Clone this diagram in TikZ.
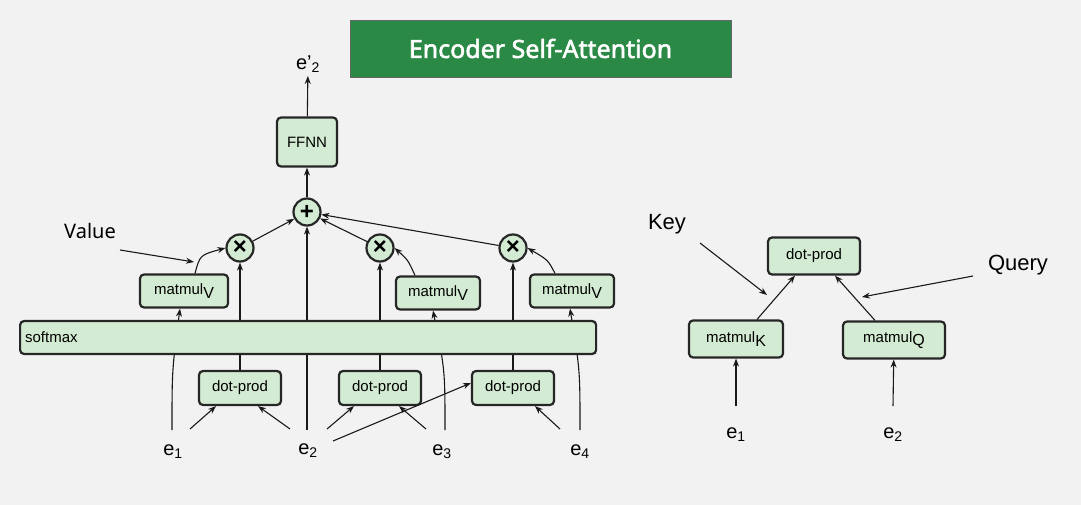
\documentclass[tikz,border=0pt]{standalone}
\usepackage{fontspec}
\setmainfont{Liberation Sans}
\newfontfamily\notos{Noto Sans}
\newfontfamily\notob{Noto Sans}[FakeBold=2.2]
\usetikzlibrary{arrows.meta}
\definecolor{bg}{HTML}{F2F2F2}
\definecolor{boxg}{HTML}{D3EBD2}
\definecolor{titleg}{HTML}{2A8A45}
\newcommand{\sbx}[1]{\raisebox{-3.5pt}{\fontsize{16}{16}\selectfont #1}}
\begin{document}
\begin{tikzpicture}[x=1pt,y=-1pt,
  box/.style={draw=black!85,line width=2.2pt,fill=boxg,rounded corners=4pt,inner sep=0pt,font=\fontsize{15}{17}\selectfont},
  op/.style={draw=black!85,line width=2.2pt,fill=boxg,circle,minimum size=27pt,inner sep=0pt,font=\bfseries\fontsize{24}{24}\selectfont},
  lab/.style={font=\fontsize{20}{22}\selectfont},
  ar/.style={-{Stealth[length=8pt,width=6pt]},line width=1.1pt,black!90}]
\fill[bg] (0,0) rectangle (1081,505);
\useasboundingbox (0,0) rectangle (1081,505);
\node[fill=titleg,draw=black!60,line width=0.6pt,minimum width=381pt,minimum height=57pt,text=white,font=\notob\fontsize{25}{27}\selectfont] (title) at (540.5,48.5) {Encoder Self-Attention};
% left
\node[lab] (ep) at (308,64) {e'\textsubscript{2}};
\node[box,minimum width=60pt,minimum height=49pt] (ffnn) at (307,142) {FFNN};
\node[op] (plus) at (307,212) {+};
\node[op] (t1) at (240,248) {×};
\node[op] (t2) at (380,248) {×};
\node[op] (t3) at (513,248) {×};
\node[box,minimum width=88pt,minimum height=33pt] (m1) at (184,291) {matmul\sbx{V}};
\node[box,minimum width=84pt,minimum height=33pt] (m2) at (438,293) {matmul\sbx{V}};
\node[box,minimum width=84pt,minimum height=33pt] (m3) at (572,291) {matmul\sbx{V}};
\node[box,minimum width=82pt,minimum height=34pt] (d1) at (240,388) {dot-prod};
\node[box,minimum width=82pt,minimum height=34pt] (d2) at (380,388) {dot-prod};
\node[box,minimum width=82pt,minimum height=34pt] (d3) at (513,388) {dot-prod};
\node[lab] (e1) at (173,452) {e\textsubscript{1}};
\node[lab] (e2) at (308,451) {e\textsubscript{2}};
\node[lab] (e3) at (442,452) {e\textsubscript{3}};
\node[lab] (e4) at (580,452) {e\textsubscript{4}};
\coordinate (e1t) at (172,430); \coordinate (e2t) at (307,430);
\coordinate (e3t) at (445,430); \coordinate (e4t) at (580,430);
% lines under softmax
\draw[ar] (e2t) -- (plus);
\draw[ar] (d1) -- (t1); \draw[ar] (d2) -- (t2); \draw[ar] (d3) -- (t3);
\draw[ar] (e1t) .. controls (172,370) .. ([xshift=-4pt]m1.south);
\draw[ar] (e3t) .. controls (445,370) .. ([xshift=-5pt]m2.south);
\draw[ar] (e4t) .. controls (580,370) .. ([xshift=-2pt]m3.south);
\node[box,minimum width=576pt,minimum height=33pt,anchor=west,align=left,text width=566pt] (sm) at (19,337.5) {softmax};
\draw[ar] ([xshift=11pt]m1.north) .. controls (200,255) .. (t1.west);
\draw[ar] ([xshift=-23pt]m2.north) .. controls (408,260) .. (t2.east);
\draw[ar] ([xshift=-17pt]m3.north) .. controls (548,260) .. (t3.east);
\draw[ar] (t1) -- (plus); \draw[ar] (t2) -- (plus); \draw[ar] (t3) -- (plus);
\draw[ar] (plus) -- (ffnn); \draw[ar] (ffnn) -- (ep);
\draw[ar] (190,429) -- ([xshift=-24pt]d1.south);
\draw[ar] (290,429) -- ([xshift=18pt]d1.south);
\draw[ar] (327,429) -- ([xshift=-26pt]d2.south);
\draw[ar] (426,429) -- ([xshift=19pt]d2.south);
\draw[ar] (333,441) -- ([yshift=5pt]d3.west);
\draw[ar] (560,429) -- ([xshift=22pt]d3.south);
\node[font=\notos\fontsize{20}{22}\selectfont] (val) at (90,231) {Value};
\draw[ar] (120,250) -- (194,262);
% right
\node[box,minimum width=92pt,minimum height=37pt] (dp) at (814,256) {dot-prod};
\node[box,minimum width=94pt,minimum height=37pt] (mk) at (736,339) {matmul\sbx{K}};
\node[box,minimum width=102pt,minimum height=37pt] (mq) at (894,340) {matmul\sbx{Q}};
\node[lab] (f1) at (736,435) {e\textsubscript{1}};
\node[lab] (f2) at (893,435) {e\textsubscript{2}};
\draw[ar] (736,406) -- (mk);
\draw[ar] (893,406) -- (mq);
\draw[ar] ([xshift=21pt]mk.north) -- ([xshift=-19pt]dp.south);
\draw[ar] ([xshift=-19pt]mq.north) -- ([xshift=21pt]dp.south);
\node[font=\fontsize{22}{24}\selectfont] (key) at (667,224) {Key};
\node[font=\fontsize{22}{24}\selectfont] (qry) at (1018,265) {Query};
\draw[ar] (700,243) -- (767,295);
\draw[ar] (973,276) -- (862,297);
\end{tikzpicture}
\end{document}
